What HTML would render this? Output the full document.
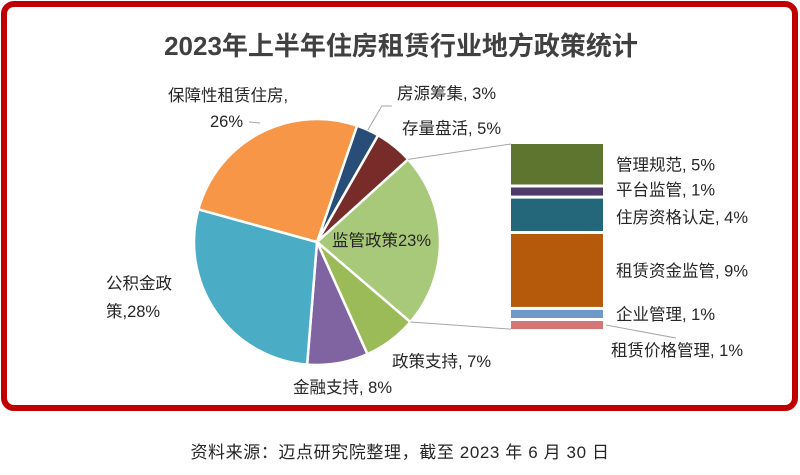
<!DOCTYPE html>
<html><head><meta charset="utf-8"><style>
html,body{margin:0;padding:0;background:#fff;width:800px;height:475px;overflow:hidden}
svg{display:block;font-family:"Liberation Sans","Noto Sans CJK SC",sans-serif}
</style></head><body>
<svg id="c" width="800" height="475" viewBox="0 0 800 475">
<rect x="4" y="4" width="791" height="404" rx="10" fill="#fff" stroke="#c00000" stroke-width="6"/>
<text x="401" y="55" text-anchor="middle" font-size="26" font-weight="bold" fill="#404040">2023年上半年住房租赁行业地方政策统计</text>
<text x="400" y="458" text-anchor="middle" font-size="17" letter-spacing="0.6" fill="#262626">资料来源：迈点研究院整理，截至 2023 年 6 月 30 日</text>
<g id="pie"></g>
<g id="bar"></g>
<g id="lab" font-size="16.5" fill="#262626"></g>
</svg>
<script>
const pieCats=["房源筹集","存量盘活","监管政策","政策支持","金融支持","公积金政策","保障性租赁住房"];
const pieVals=[3,5,23,7,8,28,26];
const pieColors=["#284d78","#772c2a","#a9c97a","#9bbb59","#8064a2","#4bacc6","#f79646"];
const barCats=["管理规范","平台监管","住房资格认定","租赁资金监管","企业管理","租赁价格管理"];
const barVals=[5,1,4,9,1,1];
const barColors=["#5e7530","#4f3a6b","#24677a","#b55a0a","#6f99cb","#d47676"];
const NS="http://www.w3.org/2000/svg";
function mk(t,a,p){const e=document.createElementNS(NS,t);for(const k in a)e.setAttribute(k,a[k]);p.appendChild(e);return e;}
const cx=317,cy=242,r=123,start=19;
const total=pieVals.reduce((a,b)=>a+b,0);
function pt(deg,rr){const a=(deg-90)*Math.PI/180;return [cx+rr*Math.cos(a),cy+rr*Math.sin(a)];}
const pie=document.getElementById('pie');
let ang=start;const mids=[];const bounds=[];
pieVals.forEach((v,i)=>{
  const s=ang,e=ang+v/total*360;ang=e;mids.push((s+e)/2);bounds.push([s,e]);
  const p1=pt(s,r),p2=pt(e,r);
  const el=mk('path',{d:`M${cx},${cy}L${p1[0]},${p1[1]}A${r},${r} 0 ${e-s>180?1:0} 1 ${p2[0]},${p2[1]}Z`,fill:pieColors[i],stroke:'#fff','stroke-width':2.5},pie);
  
  
});
const bar=document.getElementById('bar');
const bx=511,bw=92,by0=144,pxPer=8.1,gap=3;
let y=by0;const barMid=[];
barVals.forEach((v,i)=>{
  const h=v*pxPer;
  const el=mk('rect',{x:bx,y:y,width:bw,height:h,fill:barColors[i]},bar);
  
  
  barMid.push(y+h/2);y+=h+gap;
});
const barEnd=y-gap;
const lab=document.getElementById('lab');
const sb=bounds[2];
const c1=pt(sb[0],r),c2=pt(sb[1],r);
let l=mk('line',{x1:c1[0],y1:c1[1],x2:bx,y2:by0,stroke:'#a6a6a6','stroke-width':1},lab);

l=mk('line',{x1:c2[0],y1:c2[1],x2:bx,y2:barEnd,stroke:'#a6a6a6','stroke-width':1},lab);

function txt(s,x,y,anchor,name){const t=mk('text',{x:x,y:y,'text-anchor':anchor||'start'},lab);t.textContent=s;return t;}
function line(pts,name){const p=mk('polyline',{points:pts,fill:'none',stroke:'#a6a6a6','stroke-width':1},lab);}
const pa=pt(mids[0],r);
line(`${pa[0]},${pa[1]} ${pa[0]+14},${pa[1]-24} ${pa[0]+24},${pa[1]-24}`,'leader-0');
txt(pieCats[0]+", "+pieVals[0]+"%",397,99,'start','label-'+pieCats[0]);
txt(pieCats[1]+", "+pieVals[1]+"%",402,134,'start','label-'+pieCats[1]);
txt(pieCats[2]+pieVals[2]+"%",332,246,'start','label-'+pieCats[2]);
txt(pieCats[3]+", "+pieVals[3]+"%",392,367,'start','label-'+pieCats[3]);
txt(pieCats[4]+", "+pieVals[4]+"%",293,393,'start','label-'+pieCats[4]);
txt("公积金政",106,289,'start','label-'+pieCats[5]+'-1');
txt("策,"+pieVals[5]+"%",106,317,'start','label-'+pieCats[5]+'-2');
txt(pieCats[6]+",",168,101,'start','label-'+pieCats[6]+'-1');
txt(pieVals[6]+"%",210,127,'start','label-'+pieCats[6]+'-2');
line(`249,122 260,123`,'leader-6');
const offs=[0,-2,2,0,0,0];
barCats.forEach((c,i)=>{
  let yy=barMid[i]+6+offs[i];
  let xx=616;
  if(i===5){yy=barMid[i]+31;xx=611;}
  txt(c+", "+barVals[i]+"%",xx,yy,'start','bar-label-'+i);
});
line(`606,${barMid[5]} 676,${barMid[5]+13}`,'leader-bar-5');
</script>
</body></html>
